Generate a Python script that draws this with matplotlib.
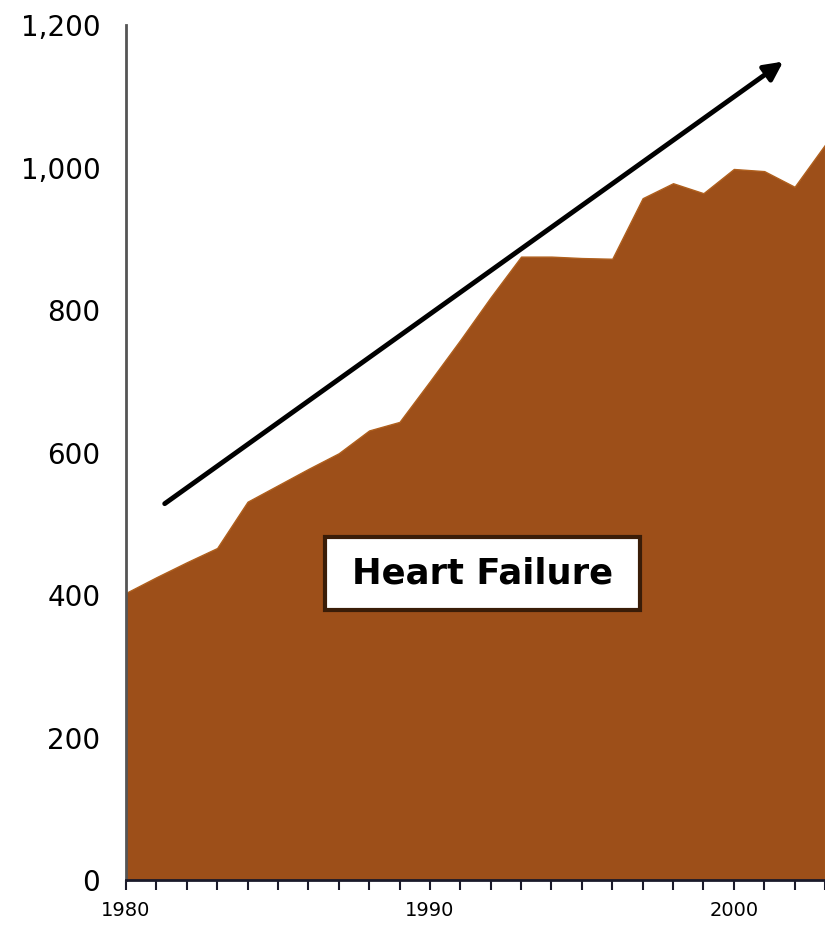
import matplotlib.pyplot as plt
from matplotlib.patches import Rectangle
from matplotlib.ticker import FuncFormatter, MultipleLocator

years = list(range(1980, 2004))
hf_values = [403, 425, 446, 466, 531, 554, 577, 599, 631, 643, 700, 758,
             818, 875, 875, 873, 872, 957, 978, 964, 998, 995, 973, 1032]

y_ticks = [0, 200, 400, 600, 800, 1000, 1200]
x_ticks = [1980, 1990, 2000]
label = "Heart Failure"

fill_color = '#9D4F19'

fig = plt.figure(figsize=(8.25, 9.25), dpi=100)
ax = fig.add_axes([0.1527, 0.0486, 0.8473, 0.9243])

ax.fill_between(years, hf_values, 0, facecolor=fill_color, edgecolor='#B0601E', linewidth=1)

ax.set_xlim(1980, 2003)
ax.set_ylim(0, 1200)

ax.spines['top'].set_visible(False)
ax.spines['right'].set_visible(False)
ax.spines['left'].set_color('#555555')
ax.spines['left'].set_linewidth(2)
ax.spines['bottom'].set_color('#1a1a2a')
ax.spines['bottom'].set_linewidth(2)

ax.set_yticks(y_ticks)
ax.yaxis.set_major_formatter(FuncFormatter(lambda v, _: '{:,.0f}'.format(v)))
ax.tick_params(axis='y', length=0, labelsize=20, pad=18.5)

ax.set_xticks(x_ticks)
ax.xaxis.set_minor_locator(MultipleLocator(1))
ax.tick_params(axis='x', which='both', direction='out', length=7, width=1.5,
               color='#1a1a2a', labelsize=14, pad=8)
for t in ax.get_xticklabels():
    t.set_family(['Liberation Sans Narrow', 'DejaVu Sans'])

# trend arrow
ax.annotate('', xy=(2001.7, 1151), xytext=(1981.2, 526),
            arrowprops=dict(arrowstyle='-|>', color='black', lw=3.5, mutation_scale=28))

# label box
ax.add_patch(Rectangle((1986.55, 379), 10.35, 102, facecolor='white',
                       edgecolor='#3a1d08', linewidth=3, zorder=3))
ax.text(1991.73, 430, label, fontsize=25.5, fontweight='bold', ha='center', va='center',
        zorder=4)

fig.savefig('out.png', dpi=100, facecolor='white')
